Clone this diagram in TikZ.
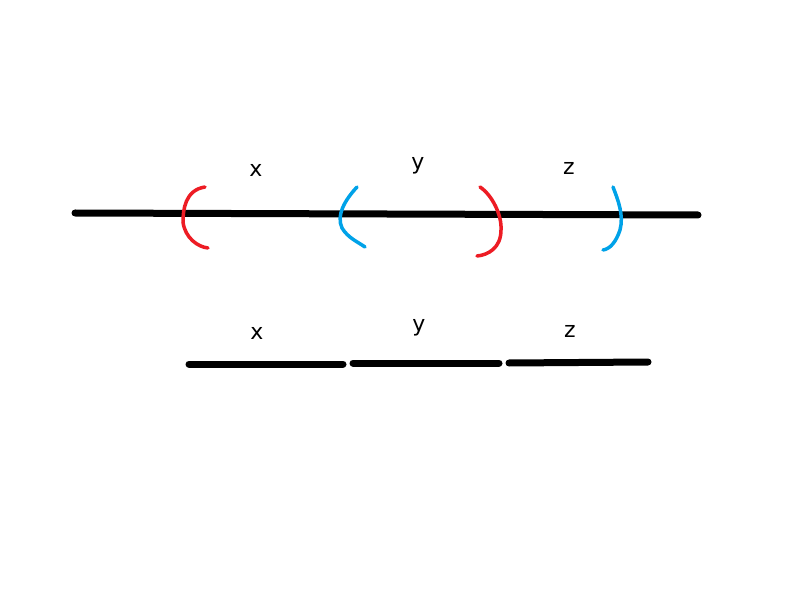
\documentclass[tikz,border=0pt]{standalone}
\usepackage{fontspec}
\setmainfont{DejaVu Sans}
\definecolor{pred}{HTML}{ED1C24}
\definecolor{pblue}{HTML}{00A2E8}
\begin{document}
\begin{tikzpicture}[x=1pt,y=-1pt,
  seg/.style={line width=7pt,line cap=round,black},
  br/.style={line width=3.5pt,line cap=round},
  lab/.style={font=\fontsize{22}{26}\selectfont}]
\useasboundingbox (0,0) rectangle (789,593);
\fill[white] (0,0) rectangle (789,593);
\draw[seg] (75,213) -- (698,215);
\draw[br,pred] (205,187) .. controls (185,190) and (183,210) .. (183,222) .. controls (185,238) and (198,247) .. (208,248);
\draw[br,pblue] (357,187) .. controls (345,200) and (336,215) .. (342,228) .. controls (348,238) and (358,242) .. (365,247);
\draw[br,pred] (480,187) .. controls (492,195) and (502,215) .. (501,230) .. controls (501,248) and (488,255) .. (477,256);
\draw[br,pblue] (613,187) .. controls (618,200) and (624,215) .. (620,230) .. controls (616,242) and (610,249) .. (603,250);
\node[lab] (x1) at (256,170) {x};
\node[lab] (y1) at (418,166) {y};
\node[lab] (z1) at (569,168) {z};
\draw[seg] (189,364) -- (343,364);
\draw[seg] (353,363) -- (499,363);
\draw[seg] (509,363) -- (648,362);
\node[lab] (x2) at (257,333) {x};
\node[lab] (y2) at (419,328) {y};
\node[lab] (z2) at (570,331) {z};
\end{tikzpicture}
\end{document}
